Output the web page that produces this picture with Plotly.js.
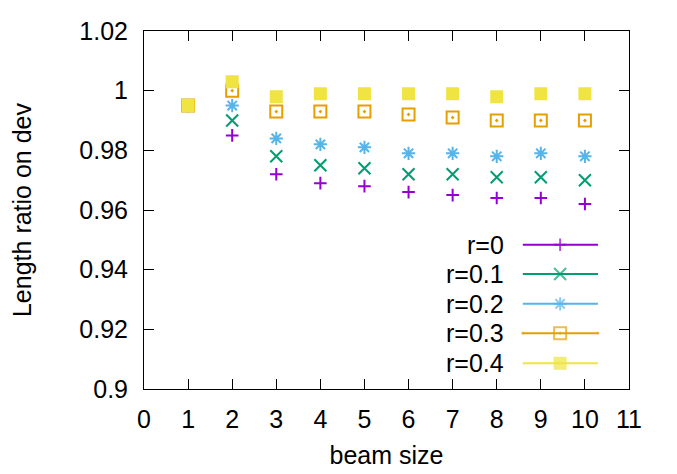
<!DOCTYPE html>
<html>
<head>
<meta charset="utf-8">
<script src="https://cdn.plot.ly/plotly-3.0.1.min.js"></script>
<style>html,body{margin:0;padding:0;background:#fff;}#plot{width:677px;height:474px;}</style>
</head>
<body>
<div id="plot"></div>
<script>
// ---- data ----
const beamSize = [1, 2, 3, 4, 5, 6, 7, 8, 9, 10];
const seriesNames = ["r=0", "r=0.1", "r=0.2", "r=0.3", "r=0.4"];
const r00 = [0.995, 0.985, 0.972, 0.969, 0.968, 0.966, 0.965, 0.964, 0.964, 0.962];
const r01 = [0.995, 0.990, 0.978, 0.975, 0.974, 0.972, 0.972, 0.971, 0.971, 0.970];
const r02 = [0.995, 0.995, 0.984, 0.982, 0.981, 0.979, 0.979, 0.978, 0.979, 0.978];
const r03 = [0.995, 1.000, 0.993, 0.993, 0.993, 0.992, 0.991, 0.990, 0.990, 0.990];
const r04 = [0.995, 1.003, 0.998, 0.999, 0.999, 0.999, 0.999, 0.998, 0.999, 0.999];
const yTickVals = [0.9, 0.92, 0.94, 0.96, 0.98, 1.0, 1.02];
const yTickText = ["0.9", "0.92", "0.94", "0.96", "0.98", "1", "1.02"];
const xTickVals = [0, 1, 2, 3, 4, 5, 6, 7, 8, 9, 10, 11];

// ---- styles ----
const colors = ["#9400d3", "#009e73", "#56b4e9", "#e69f00", "#f0e442"];
const symbols = ["cross-thin-open", "x-thin-open", "asterisk-open", "square-open-dot", "square"];
const sizes = [9, 12, 11, 12, 11];
const series = [r00, r01, r02, r03, r04];
const FONT = "Liberation Sans, Arial, Helvetica, sans-serif";
const FS = 25;

const traces = [];
series.forEach((ys, i) => {
  traces.push({
    x: beamSize, y: ys, type: "scatter", mode: "markers", name: seriesNames[i],
    showlegend: false, cliponaxis: false,
    marker: {
      symbol: symbols[i], size: sizes[i], color: colors[i],
      line: {color: colors[i], width: 2}
    }
  });
});

// gnuplot-style key (text right-aligned, sample on its right), drawn on a hidden overlay axis
const key = {textX: 0.746, lineX0: 0.781, markX: 0.858, lineX1: 0.936,
             rows: [0.403, 0.321, 0.238, 0.156, 0.072]};
const annotations = [];
seriesNames.forEach((nm, i) => {
  traces.push({
    x: [key.lineX0, key.markX, key.lineX1], y: [key.rows[i], key.rows[i], key.rows[i]],
    xaxis: "x2", yaxis: "y2", type: "scatter", mode: "lines+markers", showlegend: false,
    hoverinfo: "skip", cliponaxis: false,
    line: {color: colors[i], width: 2},
    marker: {symbol: symbols[i], size: [0, sizes[i], 0], color: colors[i], line: {color: colors[i], width: 2}}
  });
  annotations.push({
    xref: "paper", yref: "paper", x: key.textX, y: key.rows[i], text: nm,
    showarrow: false, xanchor: "right", yanchor: "middle",
    font: {family: FONT, size: FS, color: "#000"}
  });
});

const axisCommon = {
  showgrid: false, zeroline: false, showline: true, linecolor: "#000", linewidth: 1,
  mirror: "ticks", ticks: "inside", ticklen: 10, tickwidth: 1, tickcolor: "#000",
  tickfont: {family: FONT, size: FS, color: "#000"}
};

const layout = {
  width: 677, height: 474,
  margin: {l: 144, r: 48, t: 31, b: 85},
  paper_bgcolor: "#fff", plot_bgcolor: "#fff",
  showlegend: false,
  xaxis: Object.assign({}, axisCommon, {
    range: [0, 11], tickvals: xTickVals, ticklabelstandoff: 8,
    title: {text: "beam size", font: {family: FONT, size: FS, color: "#000"}, standoff: 14}
  }),
  yaxis: Object.assign({}, axisCommon, {
    range: [0.9, 1.02], tickvals: yTickVals, ticktext: yTickText, ticklabelstandoff: 10,
    title: {text: "Length ratio on dev", font: {family: FONT, size: FS, color: "#000"}, standoff: 40}
  }),
  xaxis2: {overlaying: "x", range: [0, 1], visible: false, fixedrange: true},
  yaxis2: {overlaying: "y", range: [0, 1], visible: false, fixedrange: true},
  annotations: annotations
};

Plotly.newPlot("plot", traces, layout, {displayModeBar: false, staticPlot: true});
</script>
</body>
</html>
